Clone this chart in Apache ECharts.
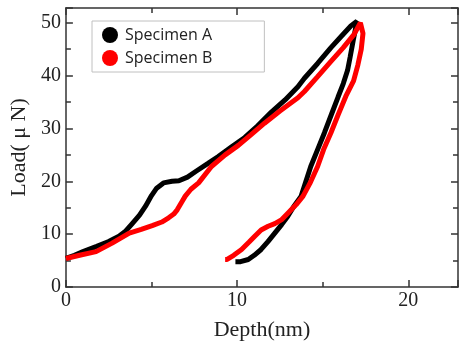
<!DOCTYPE html>
<html><head><meta charset="utf-8">
<script src="https://cdn.jsdelivr.net/npm/echarts@6/dist/echarts.min.js"></script>
<style>html,body{margin:0;padding:0;background:#fff}#c{width:459px;height:347px}</style>
</head><body><div id="c"></div>
<script>
var seriesNames = ["Specimen A", "Specimen B"];
var xTicks = [0, 10, 20];
var yTicks = [0, 10, 20, 30, 40, 50];
var depthA = [0,0.5,1.0,1.8,2.5,3.1,3.5,3.9,4.3,4.65,5.0,5.3,5.7,6.2,6.6,7.1,7.6,8.3,8.9,9.7,10.45,11.2,12.0,12.8,13.55,13.93,14.7,15.48,16.1,16.64,17.0,
  16.8,16.6,16.45,16.2,15.9,15.5,15.1,14.7,14.3,14.0,13.74,13.3,12.96,12.6,12.2,11.8,11.4,11.0,10.65,10.2,9.9];
var loadA = [5.4,6.0,6.7,7.7,8.6,9.6,10.6,12.1,13.6,15.3,17.3,18.7,19.7,20.0,20.1,20.8,21.9,23.4,24.7,26.6,28.3,30.5,33.1,35.4,37.9,39.5,42.3,45.3,47.5,49.4,50.3,
  47,43.5,41,38.5,36.0,32.6,29.2,26,22.8,19.8,17.2,15.2,13.4,11.8,10.2,8.6,7.1,6.0,5.2,4.8,4.8];
var depthB = [0,0.8,1.76,2.7,3.7,4.4,5.04,5.6,6.0,6.3,6.5,6.75,6.97,7.3,7.75,8.5,9.3,10.07,10.8,11.6,12.5,13.55,13.93,14.7,15.48,16.2,16.83,17.2,
  17.35,17.25,17.05,16.8,16.35,15.9,15.48,15.05,14.7,14.25,13.85,13.45,13.06,12.58,12.2,11.81,11.4,11.03,10.7,10.26,9.8,9.39,9.3];
var loadB = [5.4,6.0,6.7,8.3,10.2,10.9,11.6,12.3,13.1,13.8,14.6,16.0,17.2,18.5,19.7,22.8,25.0,26.8,28.8,31.0,33.3,35.8,37.0,39.8,42.7,45.3,47.8,50.0,
  48,45,42,39,36.1,32.6,29.2,26,22.8,19.6,17.2,15.6,14.3,12.7,12.0,11.5,10.8,9.6,8.5,7.1,6.0,5.2,5.2];
var colors = ["#000000", "#ff0000"];

function zip(a, b) { return a.map(function (v, i) { return [v, b[i]]; }); }

var axisLineStyle = { color: '#333', width: 1.5 };
var serif = 'Liberation Serif';
function xAx(pos, show) {
  return {
    type: 'value', position: pos, min: 0, max: 22.9, interval: 10,
    axisLine: { show: true, onZero: false, lineStyle: axisLineStyle },
    axisTick: { show: true, inside: true, length: 7, lineStyle: axisLineStyle },
    minorTick: { show: true, splitNumber: 2, length: 5, lineStyle: axisLineStyle },
    splitLine: { show: false },
    axisLabel: { show: show, showMaxLabel: false, margin: 4, color: '#222', fontFamily: serif, fontSize: 20,
      formatter: function (v) { return xTicks.indexOf(v) >= 0 ? String(v) : ''; } },
    name: show ? 'Depth(nm)' : '', nameLocation: 'middle', nameGap: 32,
    nameTextStyle: { color: '#222', fontFamily: serif, fontSize: 22 }
  };
}
function yAx(pos, show) {
  return {
    type: 'value', position: pos, min: 0, max: 52.8, interval: 10,
    axisLine: { show: true, onZero: false, lineStyle: axisLineStyle },
    axisTick: { show: true, inside: true, length: 7, lineStyle: axisLineStyle },
    minorTick: { show: true, splitNumber: 2, length: 5, lineStyle: axisLineStyle },
    splitLine: { show: false },
    axisLabel: { show: show, showMaxLabel: false, margin: 5, color: '#222', fontFamily: serif, fontSize: 20,
      formatter: function (v) { return yTicks.indexOf(v) >= 0 ? String(v) : ''; } },
    name: show ? 'Load( \u03bc N)' : '', nameLocation: 'middle', nameGap: 30,
    nameTextStyle: { color: '#222', fontFamily: serif, fontSize: 22 }
  };
}

var chart = echarts.init(document.getElementById('c'), null, { renderer: 'canvas' });
chart.setOption({
  animation: false,
  backgroundColor: '#fff',
  grid: { left: 63, right: 1, top: 8, bottom: 60, containLabel: false },
  xAxis: [xAx('bottom', true), xAx('top', false)],
  yAxis: [yAx('left', true), yAx('right', false)],
  legend: {
    left: 92, top: 21, orient: 'vertical',
    padding: [6, 52, 6, 10],
    borderColor: '#c0c0c0', borderWidth: 1, backgroundColor: '#fff',
    icon: 'circle', itemWidth: 16, itemHeight: 16, itemGap: 7,
    textStyle: { fontFamily: 'Open Sans', fontSize: 16, color: '#222', padding: [0, 0, 0, 2] },
    data: seriesNames
  },
  series: [
    { name: seriesNames[0], type: 'line', data: zip(depthA, loadA), showSymbol: false, symbol: 'circle',
      lineStyle: { color: colors[0], width: 5 }, itemStyle: { color: colors[0] }, z: 2 },
    { name: seriesNames[1], type: 'line', data: zip(depthB, loadB), showSymbol: false, symbol: 'circle',
      lineStyle: { color: colors[1], width: 5 }, itemStyle: { color: colors[1] }, z: 3 }
  ]
});
</script></body></html>
